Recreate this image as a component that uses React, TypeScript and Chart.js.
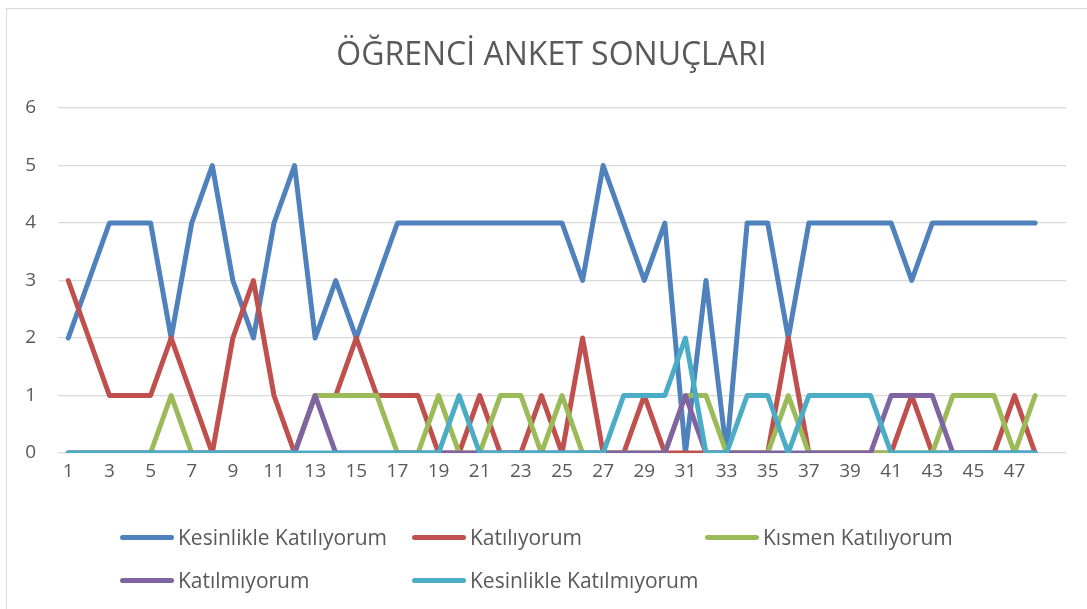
import React, { useEffect, useRef } from "react";
import { Chart, registerables } from "chart.js";

Chart.register(...registerables);

const categories = [
  "1", "2", "3", "4", "5", "6", "7", "8", "9", "10",
  "11", "12", "13", "14", "15", "16", "17", "18", "19", "20",
  "21", "22", "23", "24", "25", "26", "27", "28", "29", "30",
  "31", "32", "33", "34", "35", "36", "37", "38", "39", "40",
  "41", "42", "43", "44", "45", "46", "47", "48", "",
];

const kesinlikleKatiliyorum = [2, 3, 4, 4, 4, 2, 4, 5, 3, 2, 4, 5, 2, 3, 2, 3, 4, 4, 4, 4, 4, 4, 4, 4, 4, 3, 5, 4, 3, 4, 0, 3, 0, 4, 4, 2, 4, 4, 4, 4, 4, 3, 4, 4, 4, 4, 4, 4, null];
const katiliyorum = [3, 2, 1, 1, 1, 2, 1, 0, 2, 3, 1, 0, 1, 1, 2, 1, 1, 1, 0, 0, 1, 0, 0, 1, 0, 2, 0, 0, 1, 0, 0, 0, 0, 0, 0, 2, 0, 0, 0, 0, 0, 1, 0, 0, 0, 0, 1, 0, null];
const kismenKatiliyorum = [0, 0, 0, 0, 0, 1, 0, 0, 0, 0, 0, 0, 1, 1, 1, 1, 0, 0, 1, 0, 0, 1, 1, 0, 1, 0, 0, 0, 0, 0, 1, 1, 0, 0, 0, 1, 0, 0, 0, 0, 0, 0, 0, 1, 1, 1, 0, 1, null];
const katilmiyorum = [0, 0, 0, 0, 0, 0, 0, 0, 0, 0, 0, 0, 1, 0, 0, 0, 0, 0, 0, 0, 0, 0, 0, 0, 0, 0, 0, 0, 0, 0, 1, 0, 0, 0, 0, 0, 0, 0, 0, 0, 1, 1, 1, 0, 0, 0, 0, 0, null];
const kesinlikleKatilmiyorum = [0, 0, 0, 0, 0, 0, 0, 0, 0, 0, 0, 0, 0, 0, 0, 0, 0, 0, 0, 1, 0, 0, 0, 0, 0, 0, 0, 1, 1, 1, 2, 0, 0, 1, 1, 0, 1, 1, 1, 1, 0, 0, 0, 0, 0, 0, 0, 0, null];

const seriesNames = [
  "Kesinlikle Katılıyorum",
  "Katılıyorum",
  "Kısmen Katılıyorum",
  "Katılmıyorum",
  "Kesinlikle Katılmıyorum",
];
const seriesColors = ["#4F81BD", "#C0504D", "#9BBB59", "#8064A2", "#4BACC6"];
const seriesData = [
  kesinlikleKatiliyorum,
  katiliyorum,
  kismenKatiliyorum,
  katilmiyorum,
  kesinlikleKatilmiyorum,
];
const yTicks = [0, 1, 2, 3, 4, 5, 6];

const title = "ÖĞRENCİ ANKET SONUÇLARI";
const FONT = "'Open Sans', 'Noto Sans', sans-serif";
const TEXT = "#595959";

const legendPos = [
  { left: 120, top: 537 },
  { left: 412, top: 537 },
  { left: 705, top: 537 },
  { left: 120, top: 580 },
  { left: 412, top: 580 },
];

export default function App() {
  const ref = useRef<HTMLCanvasElement>(null);

  useEffect(() => {
    document.body.style.margin = "0";
    document.body.style.background = "#ffffff";
    const canvas = ref.current;
    if (!canvas) return;
    const chart = new Chart(canvas, {
      type: "line",
      data: {
        labels: categories,
        datasets: seriesNames.map((name, i) => ({
          label: name,
          data: seriesData[i],
          borderColor: seriesColors[i],
          backgroundColor: seriesColors[i],
          borderWidth: 5,
          pointRadius: 0,
          pointHoverRadius: 0,
          tension: 0,
          fill: false,
          borderCapStyle: "round" as const,
          borderJoinStyle: "round" as const,
          spanGaps: false,
          order: seriesNames.length - i,
        })),
      },
      options: {
        responsive: false,
        animation: false,
        layout: { padding: { top: 108, right: 21, bottom: 0, left: 0 } },
        plugins: {
          legend: { display: false },
          title: { display: false },
          tooltip: { enabled: false },
        },
        scales: {
          x: {
            type: "category",
            offset: true,
            grid: { display: false, drawTicks: false },
            border: { display: false },
            ticks: {
              autoSkip: false,
              maxRotation: 0,
              minRotation: 0,
              padding: 7,
              color: TEXT,
              font: { family: FONT, size: 19 },
              callback: (_v: any, index: number) =>
                index % 2 === 0 ? categories[index] : "",
            },
            afterFit: (scale: any) => {
              scale.height = 156;
            },
          },
          y: {
            min: 0,
            max: 6,
            afterBuildTicks: (scale: any) => {
              scale.ticks = yTicks.map((v) => ({ value: v }));
            },
            grid: { color: "#D9D9D9", lineWidth: 1.3, drawTicks: false },
            border: { display: false },
            ticks: {
              padding: 22,
              color: TEXT,
              font: { family: FONT, size: 19 },
            },
            afterFit: (scale: any) => {
              scale.width = 58;
            },
          },
        },
      },
    });
    return () => chart.destroy();
  }, []);

  return (
    <div
      style={{
        position: "relative",
        width: 1087,
        height: 609,
        overflow: "hidden",
        background: "#fff",
        fontFamily: FONT,
      }}
    >
      <div
        style={{
          position: "absolute",
          left: 6,
          top: 8,
          width: 1100,
          height: 620,
          borderLeft: "1.5px solid #D9D9D9",
          borderTop: "1.5px solid #D9D9D9",
          boxSizing: "border-box",
        }}
      />
      <canvas
        ref={ref}
        width={1087}
        height={609}
        style={{ position: "absolute", left: 0, top: 0, width: 1087, height: 609 }}
      />
      <div
        style={{
          position: "absolute",
          left: 0,
          width: 1103,
          top: 53,
          transform: "translateY(-50%)",
          textAlign: "center",
          color: TEXT,
          fontSize: 32,
          lineHeight: "42px",
          whiteSpace: "nowrap",
        }}
      >
        {title}
      </div>
      {seriesNames.map((name, i) => (
        <div
          key={name}
          style={{
            position: "absolute",
            left: legendPos[i].left,
            top: legendPos[i].top,
            transform: "translateY(-50%)",
            display: "flex",
            alignItems: "center",
            whiteSpace: "nowrap",
            color: TEXT,
            fontSize: 21,
            lineHeight: "28px",
          }}
        >
          <span
            style={{
              display: "inline-block",
              width: 54,
              height: 5,
              borderRadius: 3,
              background: seriesColors[i],
              marginRight: 4,
            }}
          />
          <span>{name}</span>
        </div>
      ))}
    </div>
  );
}
